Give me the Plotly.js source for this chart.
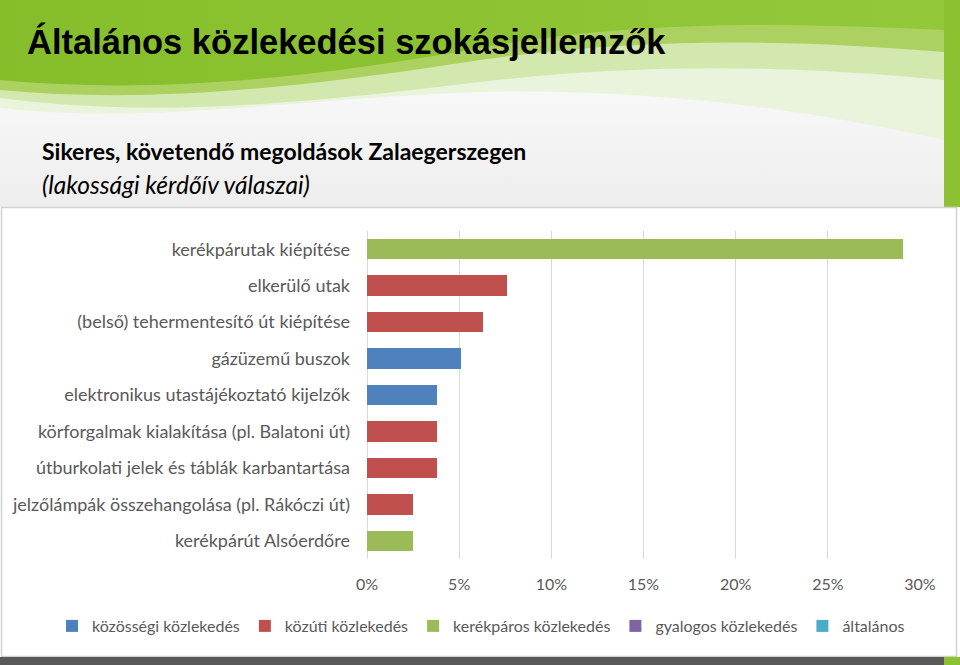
<!DOCTYPE html>
<html>
<head>
<meta charset="utf-8">
<script src="https://cdn.plot.ly/plotly-3.0.1.min.js"></script>
<style>
  html, body { margin: 0; padding: 0; width: 960px; height: 665px; overflow: hidden; background: #ffffff; }
  #bg { position: absolute; left: 0; top: 0; }
  #chart { position: absolute; left: 0; top: 0; width: 960px; height: 665px; }
</style>
</head>
<body>
<svg id="bg" width="960" height="665" xmlns="http://www.w3.org/2000/svg">
  <defs>
    <linearGradient id="hdr" x1="0" y1="0" x2="0" y2="1">
      <stop offset="0" stop-color="#ffffff"/>
      <stop offset="1" stop-color="#eeeeee"/>
    </linearGradient>
    <linearGradient id="grn" x1="0" y1="0" x2="1" y2="0">
      <stop offset="0" stop-color="#86be2b"/>
      <stop offset="1" stop-color="#93c83a"/>
    </linearGradient>
  </defs>
  <rect x="0" y="0" width="960" height="207" fill="url(#hdr)"/>
  <path d="M0,0 H944 V140 C820,112 660,88 480,92 C300,98 150,125 0,108 Z" fill="#eaf3dc"/>
  <path d="M0,0 H944 V80 C800,66 650,62 480,82 C300,104 150,118 0,98 Z" fill="#d3e8ae"/>
  <path d="M0,0 H944 V52 C800,40 650,36 480,60 C300,88 150,104 0,90 Z" fill="#acd160"/>
  <path d="M0,0 H944 V30 C800,24 650,18 480,48 C300,80 150,94 0,80 Z" fill="url(#grn)"/>
  <rect x="944" y="0" width="16" height="207" fill="#8cc232"/>
  <rect x="1.5" y="207.5" width="955" height="449" fill="#ffffff" stroke="#d2d2d2" stroke-width="1.5"/>
  <rect x="0" y="657" width="960" height="8" fill="#595959"/>
  <rect x="944" y="657" width="16" height="8" fill="#8cc232"/>
</svg>
<div id="chart"></div>
<script>
// ---- data ----
const categories = [
  "kerékpárutak kiépítése",
  "elkerülő utak",
  "(belső) tehermentesítő út kiépítése",
  "gázüzemű buszok",
  "elektronikus utastájékoztató kijelzők",
  "körforgalmak kialakítása (pl. Balatoni út)",
  "útburkolati jelek és táblák karbantartása",
  "jelzőlámpák összehangolása (pl. Rákóczi út)",
  "kerékpárút Alsóerdőre"
];
const values = [0.291, 0.076, 0.063, 0.051, 0.038, 0.038, 0.038, 0.025, 0.025];
const groups = [
  "kerékpáros közlekedés",
  "közúti közlekedés",
  "közúti közlekedés",
  "közösségi közlekedés",
  "közösségi közlekedés",
  "közúti közlekedés",
  "közúti közlekedés",
  "közúti közlekedés",
  "kerékpáros közlekedés"
];
const legendNames = ["közösségi közlekedés", "közúti közlekedés", "kerékpáros közlekedés", "gyalogos közlekedés", "általános"];
const legendColors = ["#4f81bd", "#c0504d", "#9bbb59", "#8064a2", "#4bacc6"];
const xTickVals = [0, 0.05, 0.10, 0.15, 0.20, 0.25, 0.30];

const titleText = "Általános közlekedési szokásjellemzők";
const subtitleText = "Sikeres, követendő megoldások Zalaegerszegen";
const noteText = "(lakossági kérdőív válaszai)";

// ---- geometry helpers (pixel -> paper) ----
const W = 960, H = 665;
const M = { l: 367, r: 40, t: 231, b: 106 };
const pw = W - M.l - M.r, ph = H - M.t - M.b;
const px = x => (x - M.l) / pw;
const py = y => (H - M.b - y) / ph;

const traces = legendNames.map((name, k) => ({
  type: "bar",
  orientation: "h",
  name: name,
  y: categories,
  x: values.map((v, i) => groups[i] === name ? v : null),
  marker: { color: legendColors[k], line: { width: 0 } },
  hoverinfo: "x+y"
}));

const fam = "Lato, 'Open Sans', sans-serif";

const layout = {
  width: W, height: H,
  margin: M,
  paper_bgcolor: "rgba(0,0,0,0)",
  plot_bgcolor: "rgba(0,0,0,0)",
  barmode: "stack",
  bargap: 0.44,
  showlegend: true,
  legend: {
    orientation: "h",
    xref: "paper", yref: "paper",
    x: px(52), xanchor: "left",
    y: py(626), yanchor: "middle",
    font: { family: fam, size: 16, color: "#595959" },
    traceorder: "normal",
    itemclick: false
  },
  xaxis: {
    range: [0, 0.30],
    tickvals: xTickVals,
    tickformat: ".0%",
    showgrid: true,
    gridcolor: "#d9d9d9",
    gridwidth: 1,
    zeroline: true,
    zerolinecolor: "#d9d9d9",
    zerolinewidth: 1,
    showline: false,
    ticks: "",
    ticklabelstandoff: 14,
    tickfont: { family: fam, size: 16, color: "#595959" },
    fixedrange: true
  },
  yaxis: {
    type: "category",
    categoryorder: "array",
    categoryarray: categories,
    autorange: "reversed",
    showgrid: false,
    zeroline: false,
    showline: false,
    ticks: "",
    ticklabelstandoff: 16,
    tickfont: { family: fam, size: 18, color: "#595959" },
    fixedrange: true
  },
  title: {
    text: "<b>" + titleText + "</b>",
    font: { family: "'Liberation Sans', Arial, sans-serif", size: 34.5, color: "#000000" },
    x: 27 / W, xanchor: "left", xref: "container",
    y: 1 - 42 / H, yanchor: "middle", yref: "container"
  },
  annotations: [
    {
      text: "<b>" + subtitleText + "</b>",
      xref: "paper", yref: "paper",
      x: px(40), y: py(151), xanchor: "left", yanchor: "middle",
      showarrow: false,
      font: { family: fam, size: 23, color: "#000000" }
    },
    {
      text: "<i>" + noteText + "</i>",
      xref: "paper", yref: "paper",
      x: px(40), y: py(184), xanchor: "left", yanchor: "middle",
      showarrow: false,
      font: { family: fam, size: 24.5, color: "#000000" }
    }
  ]
};

Plotly.newPlot("chart", traces, layout, { displayModeBar: false, staticPlot: true });
</script>
</body>
</html>
